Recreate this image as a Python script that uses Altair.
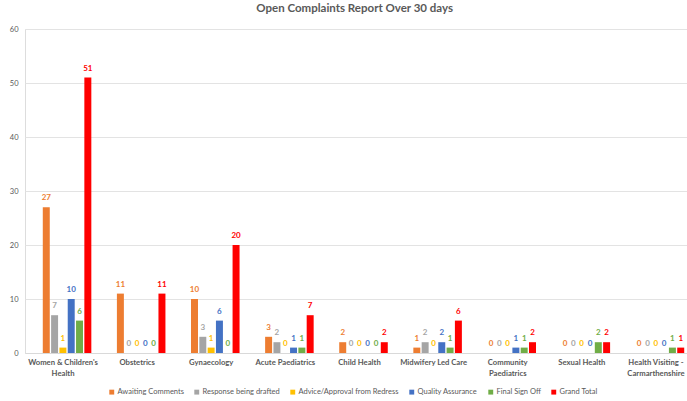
import altair as alt
import pandas as pd

# Services (a "|" marks where the category label wraps)
services = [
    "Women & Children's|Health",
    "Obstetrics",
    "Gynaecology",
    "Acute Paediatrics",
    "Child Health",
    "Midwifery Led Care",
    "Community|Paediatrics",
    "Sexual Health",
    "Health Visiting -|Carmarthenshire",
]

stages = [
    "Awaiting Comments",
    "Response being drafted",
    "Advice/Approval from Redress",
    "Quality Assurance",
    "Final Sign Off",
    "Grand Total",
]

awaiting_comments = [27, 11, 10, 3, 2, 1, 0, 0, 0]
response_drafted = [7, 0, 3, 2, 0, 2, 0, 0, 0]
advice_redress = [1, 0, 1, 0, 0, 0, 0, 0, 0]
quality_assurance = [10, 0, 6, 1, 0, 2, 1, 0, 0]
final_sign_off = [6, 0, 0, 1, 0, 1, 1, 2, 1]
grand_total = [51, 11, 20, 7, 2, 6, 2, 2, 1]

stage_colors = ["#ED7D31", "#A5A5A5", "#FFC000", "#4472C4", "#70AD47", "#FF0000"]

series = [awaiting_comments, response_drafted, advice_redress,
          quality_assurance, final_sign_off, grand_total]

rows = []
for stage, values in zip(stages, series):
    for svc, v in zip(services, values):
        rows.append({"service": svc, "stage": stage, "count": v})
df = pd.DataFrame(rows)
svc_df = pd.DataFrame({"service": services})

FONT = "Lato"
TXT = "#595959"
PLOT_H = 324

# The category band runs a little past the right edge of the canvas
x_enc = alt.X(
    "service:N",
    sort=services,
    scale=alt.Scale(paddingInner=0.345, paddingOuter=0.24, range=[0, 677]),
    axis=alt.Axis(
        title=None,
        labels=False,
        ticks=False,
        domainColor="#D9D9D9",
        grid=False,
    ),
)
xoff_enc = alt.XOffset("stage:N", sort=stages, scale=alt.Scale(paddingInner=0.16))
color_enc = alt.Color(
    "stage:N",
    sort=stages,
    scale=alt.Scale(domain=stages, range=stage_colors),
    legend=alt.Legend(
        title=None,
        orient="none",
        direction="horizontal",
        legendX=83,
        legendY=359,
        symbolType="square",
        symbolSize=24,
        symbolStrokeWidth=0,
        labelFont=FONT,
        labelFontSize=7.5,
        labelColor=TXT,
        columnPadding=9,
        labelOffset=2,
    ),
)

y_enc = alt.Y(
    "count:Q",
    scale=alt.Scale(domain=[0, 60]),
    axis=alt.Axis(
        title=None,
        values=[0, 10, 20, 30, 40, 50, 60],
        labelFont=FONT,
        labelFontSize=7.5,
        labelColor=TXT,
        labelPadding=7,
        ticks=False,
        domain=False,
        gridColor="#E3E3E3",
    ),
)

bars = alt.Chart(df).mark_bar().encode(
    x=x_enc, xOffset=xoff_enc, y=y_enc, color=color_enc
)

values_text = alt.Chart(df).mark_text(
    dy=-5, baseline="bottom", font=FONT, fontSize=8, fontWeight="bold"
).encode(
    x=alt.X("service:N", sort=services),
    xOffset=alt.XOffset("stage:N", sort=stages),
    y="count:Q",
    text="count:Q",
    color=alt.Color("stage:N", sort=stages, legend=None),
)

# Category names under the baseline, wrapped at "|"
category_text = alt.Chart(svc_df).mark_text(
    baseline="top",
    align="center",
    dx=-4,
    lineBreak="|",
    lineHeight=11,
    font=FONT,
    fontSize=7.7,
    fontWeight="bold",
    color=TXT,
).encode(
    x=alt.X("service:N", sort=services),
    y=alt.value(PLOT_H + 6),
    text="service:N",
)

chart = (
    alt.layer(bars, values_text, category_text)
    .properties(
        width=662,
        height=PLOT_H,
        autosize=alt.AutoSizeParams(type="none"),
        padding={"left": 25, "top": 29, "right": 0, "bottom": 48},
        title=alt.TitleParams(
            "Open Complaints Report Over 30 days",
            font=FONT,
            fontSize=11.5,
            fontWeight="bold",
            color=TXT,
            offset=11,
            anchor="start",
            dx=247,
        ),
    )
    .configure_view(stroke=None)
    .configure(background="white")
)

chart.save("out.html", embed_options={"renderer": "svg", "actions": False})
